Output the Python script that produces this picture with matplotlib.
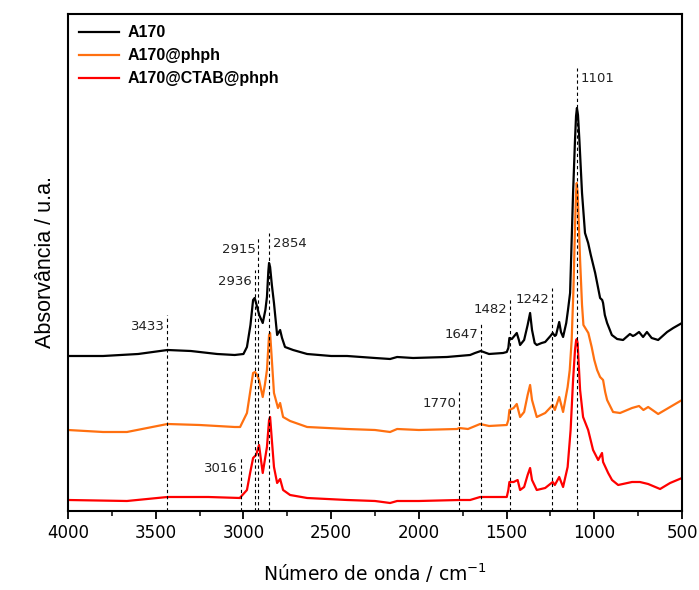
import matplotlib
matplotlib.use("Agg")
import matplotlib.pyplot as plt

# spectra (wavenumber in cm-1, absorbance incl. vertical offset)
wn_a170 = [4000, 3800, 3600, 3433, 3300, 3150, 3050, 3000, 2980, 2960, 2945, 2936,
           2928, 2910, 2890, 2875, 2866, 2858, 2854, 2848, 2838, 2826, 2808, 2791,
           2780, 2763, 2717, 2637, 2500, 2409, 2250, 2164, 2124, 2033, 1840, 1708,
           1680, 1647, 1600, 1520, 1499, 1490, 1484, 1470, 1442, 1430, 1423, 1400,
           1380, 1366, 1355, 1340, 1328, 1300, 1280, 1250, 1237, 1225, 1218, 1200,
           1190, 1178, 1160, 1150, 1138, 1121, 1110, 1104, 1099, 1093, 1085, 1070,
           1053, 1035, 1020, 995, 967, 955, 950, 940, 927, 900, 870, 836, 797, 780,
           768, 745, 722, 700, 673, 636, 585, 550, 500]
ab_a170 = [1.55, 1.55, 1.57, 1.61, 1.60, 1.57, 1.56, 1.57, 1.64, 1.86, 2.11, 2.13,
           2.08, 1.96, 1.88, 2.01, 2.14, 2.40, 2.48, 2.44, 2.26, 2.08, 1.76, 1.81,
           1.73, 1.64, 1.61, 1.57, 1.55, 1.55, 1.53, 1.52, 1.54, 1.53, 1.54, 1.56,
           1.58, 1.60, 1.57, 1.58, 1.59, 1.63, 1.73, 1.72, 1.78, 1.71, 1.66, 1.71,
           1.86, 1.98, 1.81, 1.68, 1.66, 1.68, 1.69, 1.75, 1.78, 1.75, 1.76, 1.89,
           1.79, 1.74, 1.88, 2.01, 2.18, 3.18, 3.71, 3.95, 4.03, 3.96, 3.71, 3.18,
           2.78, 2.68, 2.56, 2.38, 2.13, 2.11, 2.08, 1.96, 1.88, 1.76, 1.72, 1.71,
           1.77, 1.75, 1.76, 1.79, 1.74, 1.79, 1.73, 1.71, 1.79, 1.83, 1.88]

wn_phph = [4000, 3800, 3664, 3433, 3250, 3050, 3019, 2980, 2960, 2945, 2934, 2922,
           2911, 2890, 2878, 2866, 2854, 2848, 2838, 2826, 2803, 2791, 2774, 2734,
           2637, 2409, 2250, 2164, 2124, 2000, 1782, 1770, 1720, 1651, 1600, 1499,
           1490, 1484, 1460, 1442, 1423, 1400, 1380, 1366, 1355, 1328, 1280, 1237,
           1225, 1200, 1178, 1152, 1140, 1129, 1119, 1110, 1104, 1100, 1095, 1090,
           1081, 1070, 1062, 1034, 1015, 1000, 984, 967, 950, 938, 927, 893, 853,
           785, 745, 720, 693, 636, 568, 500]
ab_phph = [0.81, 0.79, 0.79, 0.87, 0.86, 0.84, 0.84, 0.98, 1.21, 1.38, 1.39, 1.36,
           1.31, 1.14, 1.26, 1.41, 1.76, 1.78, 1.51, 1.18, 1.03, 1.08, 0.94, 0.90,
           0.84, 0.82, 0.81, 0.79, 0.82, 0.81, 0.82, 0.83, 0.82, 0.87, 0.85, 0.86,
           0.91, 1.01, 1.03, 1.07, 0.94, 0.99, 1.16, 1.26, 1.11, 0.94, 0.98, 1.06,
           1.01, 1.14, 0.99, 1.24, 1.41, 1.71, 2.21, 2.84, 3.18, 3.28, 3.18, 2.96,
           2.51, 2.06, 1.86, 1.78, 1.64, 1.51, 1.41, 1.34, 1.31, 1.19, 1.11, 0.99,
           0.98, 1.03, 1.05, 1.01, 1.04, 0.97, 1.04, 1.11]

wn_ctab = [4000, 3664, 3433, 3200, 3019, 3016, 2980, 2962, 2945, 2928, 2911, 2900,
           2890, 2878, 2866, 2854, 2848, 2838, 2826, 2808, 2791, 2774, 2734, 2637,
           2409, 2250, 2164, 2124, 2000, 1770, 1708, 1651, 1600, 1499, 1490, 1484,
           1460, 1437, 1423, 1400, 1380, 1366, 1355, 1328, 1280, 1237, 1225, 1200,
           1178, 1152, 1135, 1121, 1110, 1104, 1100, 1095, 1090, 1081, 1064, 1035,
           1007, 978, 956, 950, 921, 899, 864, 785, 740, 693, 625, 568, 500]
ab_ctab = [0.11, 0.10, 0.14, 0.14, 0.13, 0.14, 0.21, 0.38, 0.53, 0.56, 0.66, 0.51,
           0.38, 0.51, 0.64, 0.91, 0.94, 0.71, 0.44, 0.28, 0.32, 0.21, 0.16, 0.13,
           0.11, 0.10, 0.08, 0.10, 0.10, 0.11, 0.11, 0.14, 0.14, 0.14, 0.21, 0.29,
           0.29, 0.31, 0.21, 0.24, 0.36, 0.43, 0.31, 0.21, 0.23, 0.29, 0.26, 0.34,
           0.24, 0.44, 0.81, 1.31, 1.61, 1.70, 1.72, 1.68, 1.51, 1.21, 0.94, 0.81,
           0.61, 0.51, 0.58, 0.49, 0.38, 0.31, 0.26, 0.29, 0.29, 0.27, 0.22, 0.28,
           0.33]

# marked bands and the height where each dashed line stops
band_pos = [3433, 3016, 2936, 2915, 2854, 1770, 1647, 1482, 1242, 1101]
band_top = [1.96, 0.54, 2.41, 2.73, 2.78, 1.19, 1.88, 2.13, 2.23, 4.43]
band_right = [2854, 1101]  # labels written on the right of the line

series = [
    (wn_a170, ab_a170, "black", "A170"),
    (wn_phph, ab_phph, "#ff7010", "A170@phph"),
    (wn_ctab, ab_ctab, "#ff0000", "A170@CTAB@phph"),
]


def main():
    fig = plt.figure(figsize=(6.99, 5.90), dpi=100)
    ax = fig.add_axes([0.0973, 0.1339, 0.8784, 0.8424])

    for wn, ab, col, lab in series:
        ax.plot(wn, ab, color=col, lw=1.6, label=lab, solid_joinstyle="round")

    for pos, top in zip(band_pos, band_top):
        ax.plot([pos, pos], [0, top], color="black", lw=0.8,
                linestyle=(0, (3, 2.5)))
        if pos in band_right:
            ax.annotate(str(pos), (pos, top), xytext=(3, -7.5),
                        textcoords="offset points", ha="left", va="center",
                        fontsize=9.5, color="#222222")
        else:
            ax.annotate(str(pos), (pos, top), xytext=(-2, -8),
                        textcoords="offset points", ha="right", va="center",
                        fontsize=9.5, color="#222222")

    ax.set_xlim(4000, 500)
    ax.set_ylim(0, 4.97)
    ax.set_xticks(range(4000, 499, -500))
    ax.set_xticks(range(3750, 500, -500), minor=True)
    ax.set_yticks([])
    ax.tick_params(axis="x", which="major", direction="out", length=6,
                   width=1.3, labelsize=12)
    ax.tick_params(axis="x", which="minor", direction="out", length=3.5,
                   width=1.1)
    for sp in ax.spines.values():
        sp.set_linewidth(1.5)

    ax.set_xlabel("Número de onda / cm$^{-1}$", fontsize=13.5, labelpad=14)
    ax.set_ylabel("Absorvância / u.a.", fontsize=15.5,
                  family="Liberation Sans", labelpad=9)

    ax.legend(loc="upper left", frameon=False, handlelength=2.5,
              handletextpad=0.5, labelspacing=0.5, borderaxespad=0.3,
              prop={"family": "Liberation Sans", "weight": "bold",
                    "size": 11.5})

    fig.savefig("out.png", dpi=100)


if __name__ == "__main__":
    main()
